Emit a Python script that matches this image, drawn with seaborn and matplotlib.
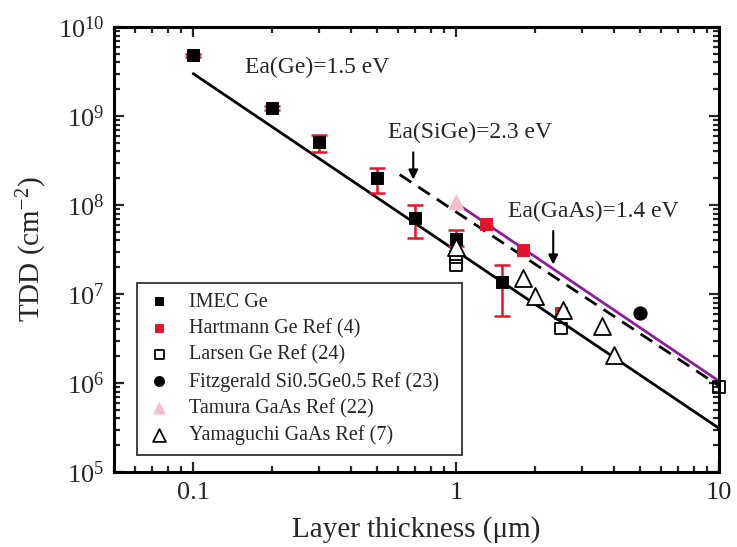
import numpy as np
import pandas as pd
import matplotlib
matplotlib.use("Agg")
import matplotlib.pyplot as plt
import matplotlib.ticker as mticker
import seaborn as sns

# values
imec_x = [0.1, 0.2, 0.3, 0.5, 0.7, 1.0, 1.5]
imec_y = [4.8e9, 1.23e9, 5.1e8, 2.0e8, 7.1e7, 4.2e7, 1.35e7]
imec_hi = [5.0e9, 1.3e9, 6.1e8, 2.6e8, 1.0e8, 5.2e7, 2.1e7]
imec_lo = [4.6e9, 1.17e9, 3.9e8, 1.36e8, 4.3e7, 3.5e7, 5.6e6]

hartmann_x = [1.3, 1.8, 2.5]
hartmann_y = [6.1e7, 3.1e7, 6.1e6]

larsen_x = [1.0, 1.0, 2.5, 10.0]
larsen_y = [2.6e7, 2.1e7, 4.1e6, 9.1e5]

fitz_x = [5.0]
fitz_y = [6.1e6]

tamura_x = [1.0]
tamura_y = [1.08e8]

yama_x = [1.0, 1.8, 2.0, 2.54, 3.6, 4.0]
yama_y = [3.4e7, 1.5e7, 9.6e6, 6.6e6, 4.4e6, 2.07e6]

# fitted lines (end points)
ge_fit_x = [0.1, 10.0]
ge_fit_y = [3.0e9, 3.1e5]
sige_fit_x = [0.61, 10.0]
sige_fit_y = [2.2e8, 9.3e5]
gaas_fit_x = [1.0, 10.0]
gaas_fit_y = [1.05e8, 1.05e6]

red = "#e3142e"
purple = "#8e1c9e"
pink = "#f6bccb"

sns.set_style("ticks")
plt.rcParams["font.family"] = ["Liberation Serif", "DejaVu Serif"]
plt.rcParams["mathtext.fontset"] = "custom"
plt.rcParams["mathtext.rm"] = "Liberation Serif"
plt.rcParams["mathtext.it"] = "Liberation Serif:italic"

fig = plt.figure(figsize=(7.37, 5.47), dpi=100)
ax = fig.add_axes([0.1547, 0.137, 0.821, 0.8135])

# fit lines
sns.lineplot(x=ge_fit_x, y=ge_fit_y, color="black", lw=2, ax=ax, zorder=2)
sns.lineplot(x=sige_fit_x, y=sige_fit_y, color="black", lw=2, ax=ax, zorder=2,
             linestyle=(0, (5, 3)))
sns.lineplot(x=gaas_fit_x, y=gaas_fit_y, color=purple, lw=2, ax=ax, zorder=2)

# red error bars on IMEC points
yerr = [np.array(imec_y) - np.array(imec_lo), np.array(imec_hi) - np.array(imec_y)]
ax.errorbar(imec_x, imec_y, yerr=yerr, fmt="none", ecolor=red, elinewidth=1.8,
            capsize=6, capthick=1.8, zorder=3)

sns.scatterplot(x=imec_x, y=imec_y, marker="s", s=70, color="black",
                edgecolor="black", ax=ax, zorder=5, label="IMEC Ge")
sns.scatterplot(x=hartmann_x, y=hartmann_y, marker="s", s=70, color=red,
                edgecolor=red, ax=ax, zorder=4, label="Hartmann Ge Ref (4)")
sns.scatterplot(x=larsen_x, y=larsen_y, marker="s", s=70, facecolor="none",
                edgecolor="black", linewidth=1.3, ax=ax, zorder=5,
                label="Larsen Ge Ref (24)", clip_on=False)
sns.scatterplot(x=fitz_x, y=fitz_y, marker="o", s=90, color="black",
                edgecolor="black", ax=ax, zorder=5,
                label="Fitzgerald Si0.5Ge0.5 Ref (23)")
sns.scatterplot(x=tamura_x, y=tamura_y, marker="^", s=110, color=pink,
                edgecolor=pink, ax=ax, zorder=4, label="Tamura GaAs Ref (22)")
sns.scatterplot(x=yama_x, y=yama_y, marker="^", s=150, facecolor="white",
                edgecolor="black", linewidth=1.3, ax=ax, zorder=5,
                label="Yamaguchi GaAs Ref (7)")

ax.set_xscale("log")
ax.set_yscale("log")
ax.set_xlim(0.05, 10)
ax.set_ylim(1e5, 1e10)

ax.set_xticks([0.1, 1, 10])
ax.set_xticklabels(["0.1", "1", "10"])
ax.xaxis.set_minor_locator(mticker.LogLocator(base=10, subs=np.arange(2, 10)))
ax.xaxis.set_minor_formatter(mticker.NullFormatter())
ax.yaxis.set_major_locator(mticker.LogLocator(base=10, numticks=10))
ax.yaxis.set_minor_locator(mticker.LogLocator(base=10, subs=np.arange(2, 10), numticks=20))
ax.yaxis.set_minor_formatter(mticker.NullFormatter())

ax.tick_params(which="both", direction="in", top=True, right=True, width=1.6)
ax.tick_params(which="major", length=7, labelsize=19, pad=7)
ax.tick_params(which="minor", length=4)
for sp in ax.spines.values():
    sp.set_linewidth(2.2)
    sp.set_color("black")

ax.set_xlabel("Layer thickness (\u03bcm)", fontsize=21)
ax.set_ylabel("TDD (cm$^{-2}$)", fontsize=21)
ax.xaxis.set_label_coords(0.5, -0.13)
ax.xaxis.label.set_va("center")
ax.yaxis.set_label_coords(-0.135, 0.5)
ax.yaxis.label.set_va("center")

# annotations
ax.text(0.158, 3.5e9, "Ea(Ge)=1.5 eV", fontsize=17, va="center", ha="left")
ax.text(0.55, 6.5e8, "Ea(SiGe)=2.3 eV", fontsize=17, va="center", ha="left")
ax.text(1.58, 8.4e7, "Ea(GaAs)=1.4 eV", fontsize=17, va="center", ha="left")
ax.annotate("", xy=(0.687, 1.8e8), xytext=(0.687, 4.2e8),
            arrowprops=dict(arrowstyle="-|>", color="black", lw=1.5,
                            mutation_scale=14))
ax.annotate("", xy=(2.34, 2.0e7), xytext=(2.34, 5.5e7),
            arrowprops=dict(arrowstyle="-|>", color="black", lw=1.5,
                            mutation_scale=14))

leg = ax.legend(loc="lower left", bbox_to_anchor=(0.038, 0.038, 0.537, 0.38),
                mode="expand", borderaxespad=0,
                fontsize=14.5, frameon=True, fancybox=False, edgecolor="black",
                handletextpad=0.9, labelspacing=0.35, markerscale=0.75,
                borderpad=0.5, handlelength=1.2)
leg.get_frame().set_linewidth(1.3)

fig.savefig("out.png", dpi=100)
